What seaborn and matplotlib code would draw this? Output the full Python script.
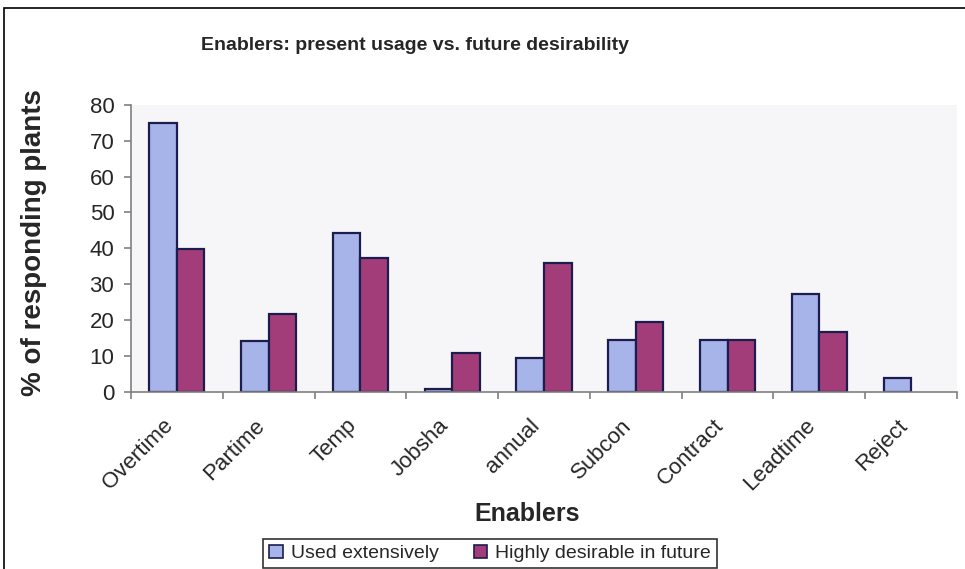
import matplotlib
matplotlib.use("Agg")
import matplotlib.pyplot as plt
import matplotlib.transforms as mtransforms
from matplotlib.patches import Rectangle, Patch
import numpy as np
import pandas as pd
import seaborn as sns

# Survey results: share of responding plants per enabler
enablers = ["Overtime", "Partime", "Temp", "Jobsha", "annual",
            "Subcon", "Contract", "Leadtime", "Reject"]
used_extensively = [75, 14.2, 44.3, 0.7, 9.5, 14.6, 14.4, 27.2, 3.8]
highly_desirable = [39.7, 21.6, 37.4, 10.9, 35.8, 19.5, 14.4, 16.8, np.nan]
series_names = ["Used extensively", "Highly desirable in future"]
y_ticks = [0, 10, 20, 30, 40, 50, 60, 70, 80]

df = pd.DataFrame({
    "Enablers": enablers * 2,
    "pct": used_extensively + highly_desirable,
    "series": [series_names[0]] * len(enablers) + [series_names[1]] * len(enablers),
})

sns.set_style("white")
plt.rcParams["font.family"] = ["Liberation Sans", "DejaVu Sans"]

blue = "#a6b4ea"
plum = "#a33d79"
edge = "#1c1c4e"

fig = plt.figure(figsize=(9.65, 5.69), dpi=100)
ax = fig.add_axes([131 / 965, 1 - 392 / 569, 826 / 965, (392 - 104.7) / 569])

sns.barplot(data=df, x="Enablers", y="pct", hue="series",
            palette=[blue, plum], width=0.6, gap=0,
            edgecolor=edge, linewidth=1.6, saturation=1, ax=ax)
ax.legend_.remove()

ax.set_facecolor("#f6f6f8")
ax.set_xlim(-0.5, len(enablers) - 0.5)
ax.set_ylim(0, 80)
ax.set_yticks(y_ticks)
ax.set_yticklabels([str(t) for t in y_ticks], fontsize=16)

for side in ("top", "right"):
    ax.spines[side].set_visible(False)
for side in ("left", "bottom"):
    ax.spines[side].set_color("#808080")
    ax.spines[side].set_linewidth(1.2)

ax.tick_params(axis="y", left=True, length=5, width=1.2, color="#808080",
               direction="out", pad=7)
# category separators on the x axis
ax.set_xticks(np.arange(-0.5, len(enablers)), minor=True)
ax.tick_params(axis="x", which="minor", bottom=True, length=5, width=1.2,
               color="#808080", direction="out")
ax.tick_params(axis="x", which="major", bottom=False, length=0, pad=22)
ax.set_xticks(np.arange(len(enablers)))
ax.set_xticklabels(enablers, fontsize=16, rotation=45, ha="right",
                   va="center", rotation_mode="anchor")
shift = mtransforms.ScaledTranslation(-7 / 100, 0, fig.dpi_scale_trans)
for lbl in ax.get_xticklabels():
    lbl.set_transform(lbl.get_transform() + shift)

ax.set_xlabel("")
ax.set_ylabel("")

fig.text(34 / 965, 1 - 243 / 569, "% of responding plants", rotation=90,
         fontsize=20, fontweight="bold", ha="center", va="center")
fig.text(527 / 965, 1 - 514 / 569, "Enablers", fontsize=18,
         fontweight="bold", ha="center", va="center")
fig.text(415 / 965, 1 - 46 / 569,
         "Enablers: present usage vs. future desirability",
         fontsize=14, fontweight="bold", ha="center", va="center")

handles = [Patch(facecolor=blue, edgecolor=edge, linewidth=1.2),
           Patch(facecolor=plum, edgecolor=edge, linewidth=1.2)]
leg = fig.legend(handles, series_names, loc="upper center",
                 bbox_to_anchor=(490 / 965, 1 - 539 / 569), ncol=2,
                 fontsize=14, frameon=True, fancybox=False,
                 handlelength=0.7, handleheight=0.7, handletextpad=0.4,
                 columnspacing=1.8, borderpad=0.3, borderaxespad=0)
leg.get_frame().set_edgecolor("black")
leg.get_frame().set_linewidth(1.2)

# outer chart border
fig.patches.append(Rectangle((4 / 965, -0.05), 1.0, 1 - 8 / 569 + 0.05,
                             transform=fig.transFigure, fill=False,
                             edgecolor="black", linewidth=1.2))

fig.savefig("out.png", dpi=100)
